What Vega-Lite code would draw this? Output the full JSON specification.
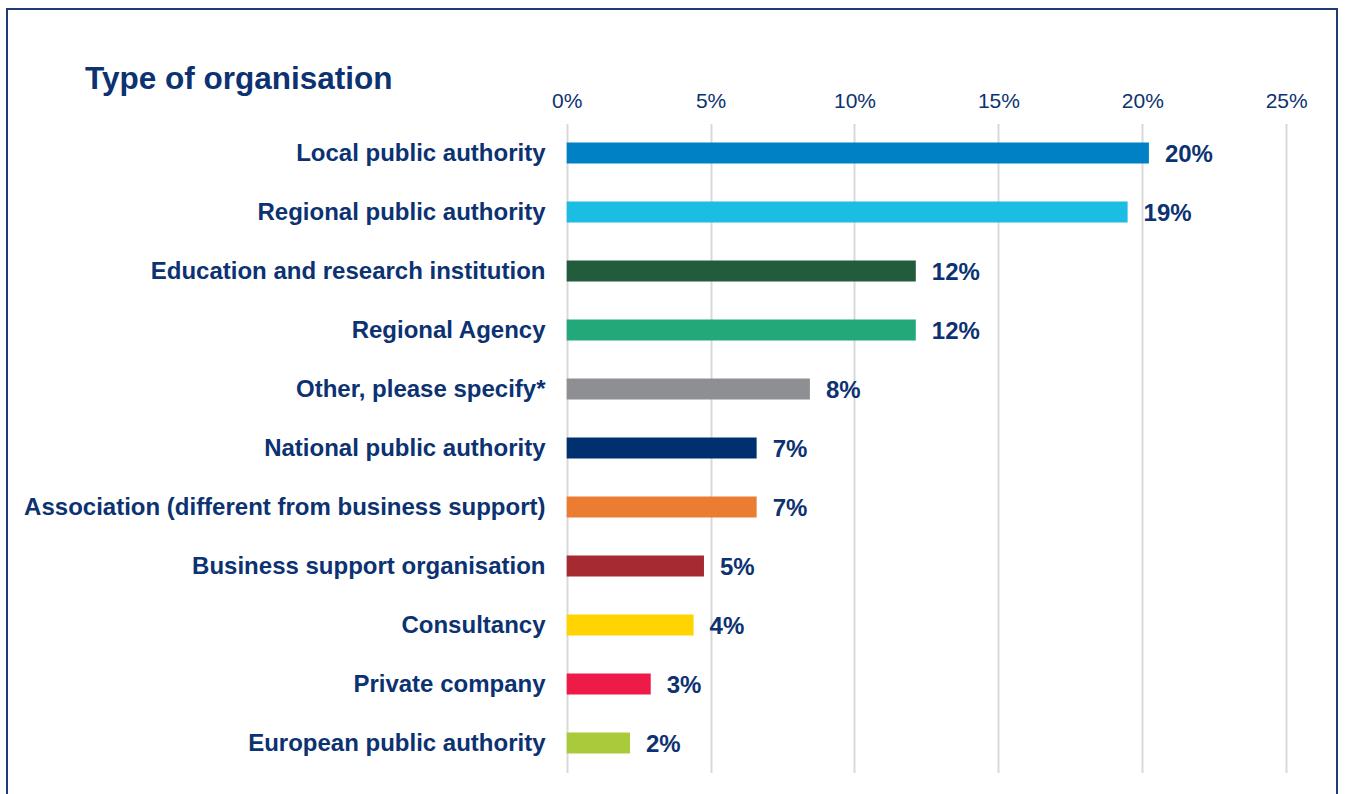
{
  "$schema": "https://vega.github.io/schema/vega-lite/v6.json",
  "width": 1330,
  "height": 785,
  "autosize": "none",
  "padding": {"left": 7, "top": 9, "right": 9, "bottom": 0},
  "background": "white",
  "config": {
    "font": "Liberation Sans",
    "view": {"stroke": "#1F3B73", "strokeWidth": 2, "strokeDash": [2115, 1330, 785]}
  },
  "title": {
    "text": "Type of organisation",
    "anchor": "start",
    "frame": "group",
    "orient": "top",
    "offset": -111,
    "dx": 78,
    "baseline": "alphabetic",
    "fontSize": 31.5,
    "fontWeight": "bold",
    "color": "#0C3272",
    "font": "Liberation Sans"
  },
  "data": {
    "values": [
      {"type": "Local public authority", "share": 0.2023},
      {"type": "Regional public authority", "share": 0.1949},
      {"type": "Education and research institution", "share": 0.1213},
      {"type": "Regional Agency", "share": 0.1213},
      {"type": "Other, please specify*", "share": 0.0845},
      {"type": "National public authority", "share": 0.066},
      {"type": "Association (different from business support)", "share": 0.066},
      {"type": "Business support organisation", "share": 0.0477},
      {"type": "Consultancy", "share": 0.0441},
      {"type": "Private company", "share": 0.0292},
      {"type": "European public authority", "share": 0.022}
    ]
  },
  "encoding": {
    "y": {
      "field": "type",
      "type": "nominal",
      "sort": null,
      "scale": {"range": [114.5, 763.5], "paddingInner": 0.644, "paddingOuter": 0.322},
      "axis": {
        "orient": "left",
        "offset": -560,
        "domain": false,
        "ticks": false,
        "grid": false,
        "title": null,
        "labelPadding": 22,
        "labelOffset": 1,
        "labelFontSize": 24,
        "labelFontWeight": "bold",
        "labelColor": "#0C3272",
        "labelFont": "Liberation Sans",
        "labelLimit": 800
      }
    }
  },
  "layer": [
    {
      "mark": {"type": "bar"},
      "encoding": {
        "x": {
          "field": "share",
          "type": "quantitative",
          "scale": {"domain": [-0.19447, 0.26765], "nice": false, "zero": false},
          "axis": {
            "orient": "top",
            "offset": -102,
            "values": [0, 0.05, 0.1, 0.15, 0.2, 0.25],
            "format": ".0%",
            "domain": false,
            "ticks": false,
            "grid": true,
            "gridColor": "#D9D9D9",
            "gridWidth": 2,
            "labelFontSize": 21,
            "labelColor": "#0C3272",
            "labelFont": "Liberation Sans",
            "labelPadding": 4,
            "labelBaseline": "alphabetic",
            "title": null
          }
        },
        "x2": {"datum": 0},
        "color": {
          "field": "type",
          "type": "nominal",
          "legend": null,
          "scale": {
            "domain": [
              "Local public authority",
              "Regional public authority",
              "Education and research institution",
              "Regional Agency",
              "Other, please specify*",
              "National public authority",
              "Association (different from business support)",
              "Business support organisation",
              "Consultancy",
              "Private company",
              "European public authority"
            ],
            "range": ["#0081C6", "#1BBEE2", "#225C3D", "#22A879", "#8D8F92", "#00306E", "#EB7D32", "#A52A32", "#FFD400", "#EE1B48", "#A9CB3B"]
          }
        }
      }
    },
    {
      "mark": {"type": "text", "align": "left", "baseline": "middle", "dx": 16, "dy": 1.5, "fontSize": 24, "fontWeight": "bold", "color": "#0C3272", "font": "Liberation Sans"},
      "encoding": {
        "x": {"field": "share", "type": "quantitative"},
        "text": {"field": "share", "type": "quantitative", "format": ".0%"}
      }
    }
  ]
}
